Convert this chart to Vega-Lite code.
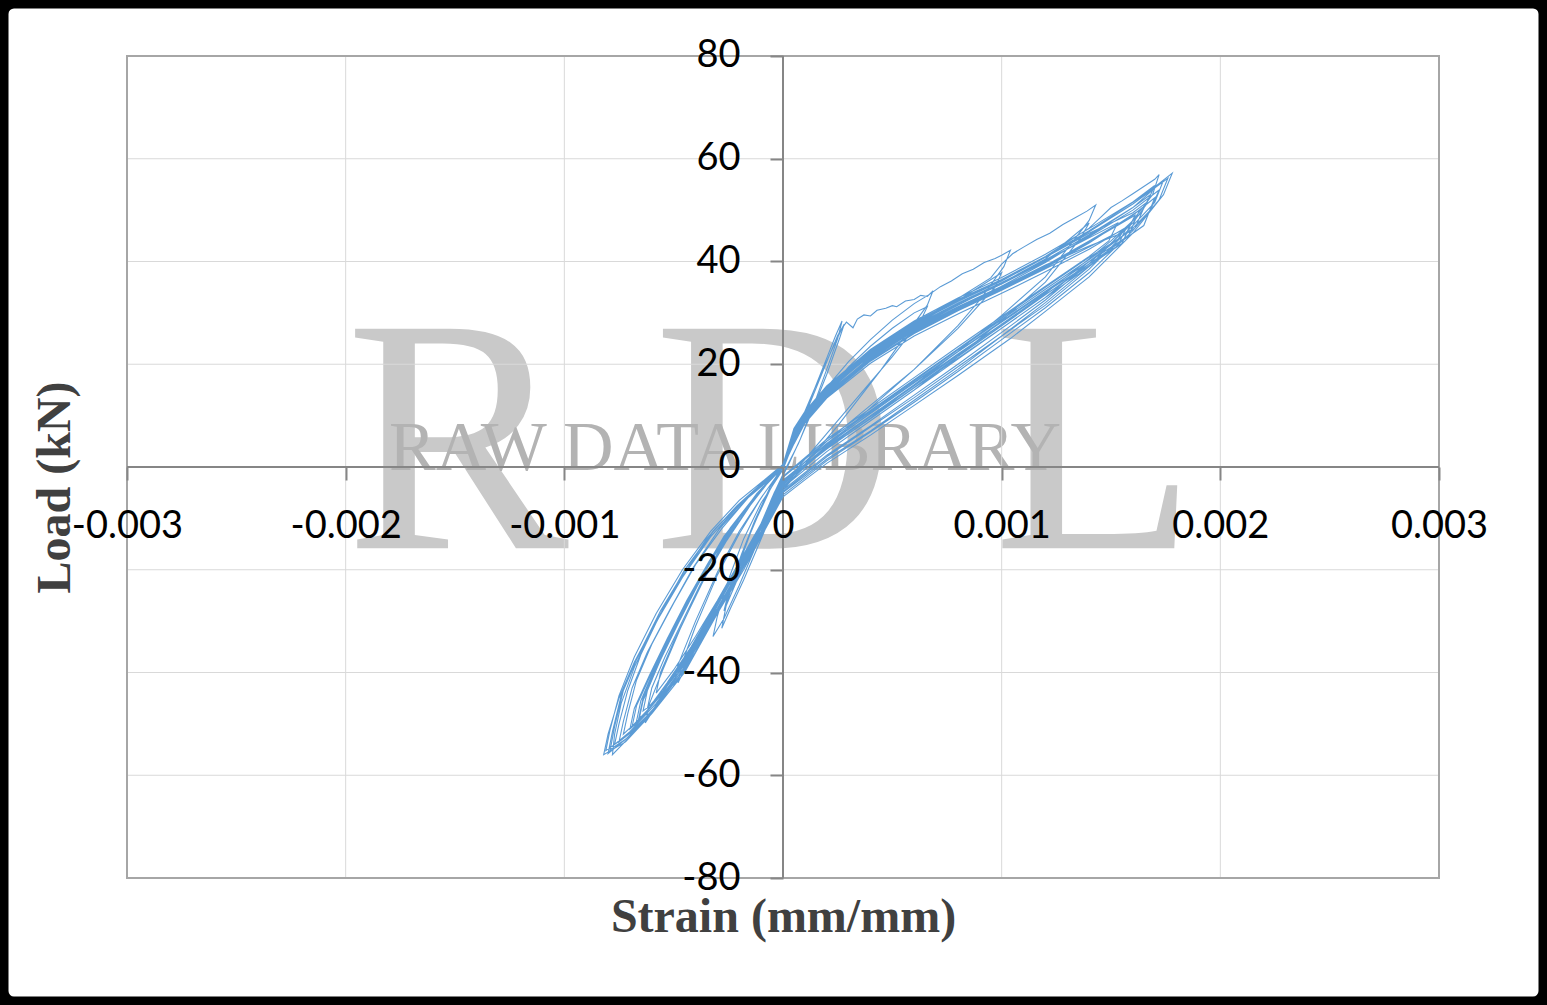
{
"$schema": "https://vega.github.io/schema/vega-lite/v6.json",
"width": 1547, "height": 1005,
"autosize": {"type": "none"},
"padding": 0,
"background": "#ffffff",
"config": {"view": {"stroke": "#000000", "strokeWidth": 17, "cornerRadius": 14}},
"resolve": {"axis": {"x": "independent", "y": "independent"}},
"datasets": {
"wmBig": [{"t":"R","s":-0.00149,"p":-15.8},{"t":"D","s":-0.00004,"p":-15.8},{"t":"L","s":0.001427,"p":-15.8}],
"wmSmall": [{"t":"RAW DATA LIBRARY","s":-0.000265,"p":-0.6}],
"vgrid": [{"s":-0.002,"p":-80,"p2":80},{"s":-0.001,"p":-80,"p2":80},{"s":0.001,"p":-80,"p2":80},{"s":0.002,"p":-80,"p2":80}],
"hgrid": [{"p":-60,"s":-0.003,"s2":0.003},{"p":-40,"s":-0.003,"s2":0.003},{"p":-20,"s":-0.003,"s2":0.003},{"p":20,"s":-0.003,"s2":0.003},{"p":40,"s":-0.003,"s2":0.003},{"p":60,"s":-0.003,"s2":0.003}],
"frame": [{"s":-0.003,"s2":0.003,"p":-80,"p2":80}],
"zero": [{"s":0,"s2":0,"p":-80,"p2":80},{"s":-0.003,"s2":0.003,"p":0,"p2":0}],
"loop": [
{"s":0,"p":0},{"s":0.00005,"p":5.2},{"s":0.0001,"p":10.5},{"s":0.00015,"p":15.8},{"s":0.0002,"p":21.2},{"s":0.00024,"p":25.5},{"s":0.00027,"p":28.4},{"s":0.00025,"p":25},{"s":0.0002,"p":19},{"s":0.00014,"p":12},{"s":0.00008,"p":5.5},{"s":0.00002,"p":0},{"s":-0.00004,"p":-5},{"s":-0.0001,"p":-11},{"s":-0.00016,"p":-17},{"s":-0.00022,"p":-23},{"s":-0.00026,"p":-27},{"s":-0.00024,"p":-23},{"s":-0.00018,"p":-16},{"s":-0.00012,"p":-10},{"s":-0.00006,"p":-4.5},{"s":0,"p":0.5},
{"s":0.00005,"p":4.8},{"s":0.0001,"p":10},{"s":0.00015,"p":15.2},{"s":0.0002,"p":20.5},{"s":0.00025,"p":25.6},{"s":0.00028,"p":27.8},{"s":0.00026,"p":25.2},{"s":0.0002,"p":18},{"s":0.00013,"p":10.5},{"s":0.00007,"p":4.5},{"s":0.00001,"p":-0.5},{"s":-0.00005,"p":-6},{"s":-0.00011,"p":-12},{"s":-0.00017,"p":-18},{"s":-0.00023,"p":-24},{"s":-0.00027,"p":-28},{"s":-0.00025,"p":-24.5},{"s":-0.00019,"p":-17},{"s":-0.00013,"p":-10.5},{"s":-0.00006,"p":-4},{"s":0,"p":0.5},
{"s":0.00005,"p":5.5},{"s":0.0001,"p":10.8},{"s":0.00016,"p":16.8},{"s":0.00022,"p":22.5},{"s":0.00027,"p":27},{"s":0.00029,"p":28.2},{"s":0.00032,"p":27.1},{"s":0.00034,"p":28.8},{"s":0.00037,"p":29.6},{"s":0.0004,"p":29.4},{"s":0.00043,"p":30.5},{"s":0.00047,"p":30.9},{"s":0.0005,"p":31.4},{"s":0.00052,"p":31.2},{"s":0.00056,"p":32.3},{"s":0.0006,"p":32.6},{"s":0.00063,"p":33.4},{"s":0.00066,"p":33.2},{"s":0.000686,"p":34.3},{"s":0.00066,"p":31.5},{"s":0.00055,"p":25},{"s":0.00045,"p":19},{"s":0.00035,"p":13.5},{"s":0.00025,"p":8},{"s":0.00015,"p":3},{"s":0.00005,"p":-2},{"s":0,"p":-4.5},{"s":-0.00006,"p":-10},{"s":-0.00012,"p":-16},{"s":-0.00018,"p":-22},{"s":-0.00024,"p":-27.5},{"s":-0.00028,"p":-31.4},{"s":-0.00026,"p":-27},{"s":-0.00021,"p":-20},{"s":-0.00015,"p":-13},{"s":-0.00008,"p":-6},{"s":0,"p":0},
{"s":0.00005,"p":4.5},{"s":0.0001,"p":8.5},{"s":0.0002,"p":14.5},{"s":0.0003,"p":19.5},{"s":0.0004,"p":23.5},{"s":0.0005,"p":27},{"s":0.0006,"p":30},{"s":0.00066,"p":31.2},{"s":0.00063,"p":28.5},{"s":0.0005,"p":21.5},{"s":0.0004,"p":16.5},{"s":0.0003,"p":11.5},{"s":0.0002,"p":6.5},{"s":0.0001,"p":1.5},{"s":0,"p":-3.5},{"s":-0.00006,"p":-9},{"s":-0.00013,"p":-16},{"s":-0.0002,"p":-23},{"s":-0.00027,"p":-29.5},{"s":-0.00032,"p":-33},{"s":-0.0003,"p":-29},{"s":-0.00025,"p":-22},{"s":-0.00018,"p":-14},{"s":-0.0001,"p":-7},{"s":0,"p":-0.5},
{"s":0.00005,"p":5},{"s":0.0001,"p":9.5},{"s":0.0002,"p":15.5},{"s":0.0003,"p":20.5},{"s":0.0004,"p":24.8},{"s":0.0005,"p":28.6},{"s":0.0006,"p":31.8},{"s":0.00067,"p":33.6},{"s":0.00072,"p":35.1},{"s":0.00077,"p":36.2},{"s":0.00082,"p":37.6},{"s":0.00087,"p":38.5},{"s":0.00092,"p":39.8},{"s":0.00097,"p":40.6},{"s":0.001,"p":41.2},{"s":0.00104,"p":42.2},{"s":0.00101,"p":39},{"s":0.0009,"p":32.5},{"s":0.0008,"p":27.5},{"s":0.0006,"p":19},{"s":0.0004,"p":11.5},{"s":0.0002,"p":4},{"s":0.0001,"p":0},{"s":0,"p":-4},{"s":-0.0001,"p":-11},{"s":-0.0002,"p":-19},{"s":-0.0003,"p":-27},{"s":-0.0004,"p":-35},{"s":-0.00048,"p":-42},{"s":-0.00046,"p":-38},{"s":-0.0004,"p":-31},{"s":-0.0003,"p":-21},{"s":-0.0002,"p":-13},{"s":-0.0001,"p":-6},{"s":0,"p":0},
{"s":0.00005,"p":6},{"s":0.0001,"p":9.8},{"s":0.0002,"p":14.8},{"s":0.0004,"p":22},{"s":0.0006,"p":27.6},{"s":0.0008,"p":32.4},{"s":0.001,"p":37.8},{"s":0.00097,"p":35},{"s":0.0008,"p":27},{"s":0.0006,"p":19},{"s":0.0004,"p":12},{"s":0.0002,"p":5},{"s":0,"p":-3},{"s":-0.0001,"p":-12},{"s":-0.0002,"p":-20},{"s":-0.0003,"p":-28},{"s":-0.0004,"p":-36},{"s":-0.0005,"p":-42.5},{"s":-0.00048,"p":-38.5},{"s":-0.0004,"p":-30},{"s":-0.0003,"p":-20.5},{"s":-0.0002,"p":-12.5},{"s":-0.0001,"p":-6},{"s":0,"p":0},
{"s":0.00005,"p":6.5},{"s":0.0001,"p":10.5},{"s":0.0002,"p":15.5},{"s":0.0004,"p":22.5},{"s":0.0006,"p":28},{"s":0.0008,"p":32.8},{"s":0.00095,"p":36.8},{"s":0.001,"p":39.5},{"s":0.00105,"p":41.5},{"s":0.0011,"p":42.8},{"s":0.00116,"p":44.3},{"s":0.00122,"p":45.5},{"s":0.00128,"p":47.2},{"s":0.00134,"p":48.6},{"s":0.00139,"p":49.8},{"s":0.00143,"p":51},{"s":0.0014,"p":48},{"s":0.0013,"p":42.5},{"s":0.0012,"p":37},{"s":0.001,"p":29.5},{"s":0.0008,"p":22.5},{"s":0.0006,"p":16},{"s":0.0004,"p":9.5},{"s":0.0002,"p":3.5},{"s":0.00005,"p":-1.5},{"s":0,"p":-4.5},{"s":-0.0001,"p":-12.5},{"s":-0.0002,"p":-20},{"s":-0.0003,"p":-27.5},{"s":-0.0004,"p":-34.5},{"s":-0.0005,"p":-41.5},{"s":-0.00058,"p":-46.5},{"s":-0.00063,"p":-49.8},{"s":-0.00061,"p":-46},{"s":-0.00055,"p":-39.5},{"s":-0.00047,"p":-31.5},{"s":-0.00037,"p":-22.5},{"s":-0.00026,"p":-14.5},{"s":-0.00015,"p":-7.5},{"s":-0.00005,"p":-2},{"s":0,"p":0.5},
{"s":0.00005,"p":7},{"s":0.0001,"p":10.2},{"s":0.0002,"p":15},{"s":0.0004,"p":21.6},{"s":0.0006,"p":27},{"s":0.0008,"p":31.5},{"s":0.001,"p":35.8},{"s":0.0012,"p":40.5},{"s":0.0014,"p":47.5},{"s":0.00136,"p":44.5},{"s":0.0012,"p":36},{"s":0.001,"p":28.5},{"s":0.0008,"p":21.5},{"s":0.0006,"p":15},{"s":0.0004,"p":9},{"s":0.0002,"p":3},{"s":0,"p":-4},{"s":-0.0001,"p":-12},{"s":-0.0002,"p":-19.5},{"s":-0.0003,"p":-27},{"s":-0.0004,"p":-34},{"s":-0.0005,"p":-41},{"s":-0.0006,"p":-46.5},{"s":-0.00066,"p":-49.5},{"s":-0.00064,"p":-45.5},{"s":-0.00057,"p":-38.5},{"s":-0.00048,"p":-30},{"s":-0.00038,"p":-21.5},{"s":-0.00027,"p":-13.5},{"s":-0.00015,"p":-7},{"s":-0.00005,"p":-2},{"s":0,"p":0.5},
{"s":0.00005,"p":6},{"s":0.0001,"p":10},{"s":0.0002,"p":15.2},{"s":0.0004,"p":22.2},{"s":0.0006,"p":27.8},{"s":0.0008,"p":32.2},{"s":0.001,"p":36.4},{"s":0.0012,"p":41},{"s":0.0014,"p":46.5},{"s":0.00145,"p":48.5},{"s":0.0015,"p":50.5},{"s":0.00155,"p":51.8},{"s":0.0016,"p":53.2},{"s":0.00165,"p":54.6},{"s":0.0017,"p":56},{"s":0.00172,"p":56.9},{"s":0.00169,"p":53},{"s":0.0016,"p":48},{"s":0.0014,"p":39},{"s":0.0012,"p":32},{"s":0.001,"p":25.5},{"s":0.0008,"p":19},{"s":0.0006,"p":13},{"s":0.0004,"p":7},{"s":0.0002,"p":1.5},{"s":0,"p":-5},{"s":-0.0001,"p":-13},{"s":-0.0002,"p":-20.5},{"s":-0.0003,"p":-28},{"s":-0.0004,"p":-35},{"s":-0.0005,"p":-41.5},{"s":-0.0006,"p":-47.5},{"s":-0.0007,"p":-52.5},{"s":-0.00078,"p":-56},{"s":-0.00077,"p":-52},{"s":-0.00074,"p":-46},{"s":-0.00068,"p":-39},{"s":-0.00059,"p":-31},{"s":-0.00047,"p":-22},{"s":-0.00034,"p":-14},{"s":-0.0002,"p":-7.5},{"s":-0.00007,"p":-2.5},{"s":0,"p":0.5},
{"s":0.00005,"p":7.5},{"s":0.0001,"p":10.8},{"s":0.0002,"p":15.8},{"s":0.0004,"p":22.8},{"s":0.0006,"p":28.2},{"s":0.0008,"p":32.6},{"s":0.001,"p":36.5},{"s":0.0012,"p":41},{"s":0.0014,"p":46},{"s":0.0016,"p":51.5},{"s":0.0017,"p":54.5},{"s":0.00178,"p":57.2},{"s":0.00174,"p":53},{"s":0.0016,"p":45.5},{"s":0.0014,"p":37},{"s":0.0012,"p":30.3},{"s":0.00104,"p":25},{"s":0.0008,"p":17.8},{"s":0.0006,"p":12},{"s":0.0004,"p":6.2},{"s":0.0002,"p":0.7},{"s":0.0001,"p":-2.5},{"s":0,"p":-5.8},{"s":-0.00008,"p":-12},{"s":-0.00018,"p":-20},{"s":-0.0003,"p":-28.5},{"s":-0.00045,"p":-40},{"s":-0.0006,"p":-48},{"s":-0.00072,"p":-53.5},{"s":-0.00082,"p":-56},{"s":-0.0008,"p":-52},{"s":-0.00075,"p":-45},{"s":-0.00068,"p":-38},{"s":-0.00058,"p":-30},{"s":-0.00047,"p":-22},{"s":-0.00035,"p":-14},{"s":-0.00021,"p":-7.5},{"s":-0.00008,"p":-2.5},{"s":0,"p":0.5},
{"s":0.00005,"p":5.5},{"s":0.0001,"p":9.2},{"s":0.0002,"p":14.2},{"s":0.0004,"p":21.4},{"s":0.0006,"p":26.8},{"s":0.0008,"p":31.2},{"s":0.001,"p":35.2},{"s":0.0012,"p":39.8},{"s":0.0014,"p":45},{"s":0.0016,"p":50.5},{"s":0.00174,"p":55.8},{"s":0.0017,"p":51.5},{"s":0.0016,"p":47},{"s":0.0014,"p":38.5},{"s":0.0012,"p":31.5},{"s":0.001,"p":25.5},{"s":0.0008,"p":19.5},{"s":0.0006,"p":13.5},{"s":0.0004,"p":7.8},{"s":0.0002,"p":2},{"s":0,"p":-4.8},{"s":-0.0001,"p":-13},{"s":-0.0002,"p":-20.5},{"s":-0.00032,"p":-29.5},{"s":-0.00046,"p":-40},{"s":-0.0006,"p":-47.5},{"s":-0.00072,"p":-52.5},{"s":-0.00081,"p":-55.2},{"s":-0.00079,"p":-51},{"s":-0.00075,"p":-44.5},{"s":-0.00068,"p":-37},{"s":-0.00058,"p":-28.5},{"s":-0.00046,"p":-20},{"s":-0.00033,"p":-12.5},{"s":-0.0002,"p":-6.5},{"s":-0.00007,"p":-2},{"s":0,"p":0.5},
{"s":0.00005,"p":6.2},{"s":0.0001,"p":9.6},{"s":0.0002,"p":14.6},{"s":0.0004,"p":21.8},{"s":0.0006,"p":27.2},{"s":0.0008,"p":31.6},{"s":0.001,"p":35.6},{"s":0.0012,"p":40},{"s":0.0014,"p":44.8},{"s":0.0016,"p":50},{"s":0.00172,"p":53.9},{"s":0.00168,"p":50},{"s":0.0016,"p":46.5},{"s":0.0014,"p":40},{"s":0.0012,"p":33},{"s":0.001,"p":27},{"s":0.0008,"p":21},{"s":0.0006,"p":15},{"s":0.0004,"p":9},{"s":0.0002,"p":3},{"s":0,"p":-4},{"s":-0.0001,"p":-12.5},{"s":-0.0002,"p":-20},{"s":-0.00032,"p":-29},{"s":-0.00045,"p":-38.5},{"s":-0.00058,"p":-46},{"s":-0.0007,"p":-51.5},{"s":-0.00077,"p":-54},{"s":-0.00075,"p":-50},{"s":-0.00071,"p":-43.5},{"s":-0.00065,"p":-36.5},{"s":-0.00056,"p":-28.5},{"s":-0.00045,"p":-20},{"s":-0.00032,"p":-12.5},{"s":-0.00018,"p":-6.5},{"s":-0.00006,"p":-2},{"s":0,"p":0.5},
{"s":0.00005,"p":5.8},{"s":0.0001,"p":9},{"s":0.0002,"p":14},{"s":0.0004,"p":21},{"s":0.0006,"p":26.5},{"s":0.0008,"p":30.8},{"s":0.001,"p":34.8},{"s":0.0012,"p":39.2},{"s":0.0014,"p":44},{"s":0.0016,"p":49},{"s":0.0017,"p":52.4},{"s":0.00165,"p":47},{"s":0.0014,"p":39.5},{"s":0.0012,"p":33.5},{"s":0.001,"p":27.5},{"s":0.0008,"p":21.5},{"s":0.0006,"p":15.5},{"s":0.0004,"p":9.5},{"s":0.0002,"p":3.5},{"s":0,"p":-2.5},{"s":-0.0001,"p":-12},{"s":-0.0002,"p":-19.5},{"s":-0.00032,"p":-28.5},{"s":-0.00045,"p":-38},{"s":-0.00058,"p":-45.5},{"s":-0.00068,"p":-50},{"s":-0.00073,"p":-52},{"s":-0.00071,"p":-48},{"s":-0.00067,"p":-41.5},{"s":-0.0006,"p":-34.5},{"s":-0.0005,"p":-26.5},{"s":-0.0004,"p":-19},{"s":-0.00028,"p":-12},{"s":-0.00016,"p":-6},{"s":-0.00005,"p":-2},{"s":0,"p":0.5},
{"s":0.00005,"p":6.8},{"s":0.0001,"p":10.2},{"s":0.0002,"p":15.2},{"s":0.0004,"p":22.4},{"s":0.0006,"p":27.8},{"s":0.0008,"p":32.2},{"s":0.001,"p":36.2},{"s":0.0012,"p":40.8},{"s":0.0014,"p":45.5},{"s":0.0016,"p":49.5},{"s":0.00166,"p":51.4},{"s":0.00161,"p":46.5},{"s":0.0014,"p":40.8},{"s":0.0012,"p":35},{"s":0.001,"p":29},{"s":0.0008,"p":23},{"s":0.0006,"p":17},{"s":0.0004,"p":11},{"s":0.0002,"p":5},{"s":0,"p":-2},{"s":-0.0001,"p":-11.5},{"s":-0.0002,"p":-19},{"s":-0.00032,"p":-28},{"s":-0.00044,"p":-37},{"s":-0.00056,"p":-44.5},{"s":-0.00065,"p":-49},{"s":-0.00069,"p":-50.5},{"s":-0.00067,"p":-46.5},{"s":-0.0006,"p":-40},{"s":-0.00052,"p":-33},{"s":-0.00043,"p":-25.5},{"s":-0.00033,"p":-18},{"s":-0.00023,"p":-11.5},{"s":-0.00012,"p":-5.5},{"s":-0.00004,"p":-1.5},{"s":0,"p":0.5},
{"s":0.00005,"p":5.2},{"s":0.0001,"p":8.8},{"s":0.0002,"p":13.6},{"s":0.0004,"p":20.6},{"s":0.0006,"p":26},{"s":0.0008,"p":30.4},{"s":0.001,"p":34.4},{"s":0.0012,"p":38.8},{"s":0.0014,"p":43.6},{"s":0.00163,"p":50},{"s":0.00158,"p":45},{"s":0.0014,"p":40},{"s":0.0012,"p":34.2},{"s":0.001,"p":28.4},{"s":0.0008,"p":22.5},{"s":0.0006,"p":16.5},{"s":0.0004,"p":10.5},{"s":0.0002,"p":4.2},{"s":0,"p":-3.5},{"s":-0.0001,"p":-12},{"s":-0.0002,"p":-19.5},{"s":-0.00031,"p":-27.5},{"s":-0.00043,"p":-36},{"s":-0.00055,"p":-43.5},{"s":-0.00062,"p":-47.5},{"s":-0.00066,"p":-49},{"s":-0.00064,"p":-45},{"s":-0.00058,"p":-39},{"s":-0.0005,"p":-32},{"s":-0.00041,"p":-24.5},{"s":-0.00031,"p":-17},{"s":-0.00021,"p":-10.5},{"s":-0.00011,"p":-5},{"s":-0.00003,"p":-1},{"s":0,"p":0.5},
{"s":0.00005,"p":4.8},{"s":0.0001,"p":8.5},{"s":0.0002,"p":13.4},{"s":0.0004,"p":20.2},{"s":0.0006,"p":25.5},{"s":0.0008,"p":29.8},{"s":0.001,"p":33.8},{"s":0.0012,"p":38},{"s":0.0014,"p":42.4},{"s":0.00159,"p":47.2},{"s":0.00155,"p":43.5},{"s":0.0014,"p":39.2},{"s":0.0012,"p":33.6},{"s":0.001,"p":27.8},{"s":0.0008,"p":22},{"s":0.0006,"p":16},{"s":0.0004,"p":10},{"s":0.0002,"p":4},{"s":0,"p":-3},{"s":-0.0001,"p":-11.5},{"s":-0.0002,"p":-19},{"s":-0.0003,"p":-26.5},{"s":-0.00042,"p":-35},{"s":-0.00053,"p":-42},{"s":-0.00059,"p":-45.5},{"s":-0.00062,"p":-47},{"s":-0.0006,"p":-43},{"s":-0.00054,"p":-37},{"s":-0.00046,"p":-30},{"s":-0.00038,"p":-23},{"s":-0.00029,"p":-16},{"s":-0.0002,"p":-10},{"s":-0.0001,"p":-4.5},{"s":0,"p":0},
{"s":0.00005,"p":6},{"s":0.0001,"p":9.5},{"s":0.0002,"p":14.4},{"s":0.0004,"p":21.2},{"s":0.0006,"p":26.6},{"s":0.0008,"p":31},{"s":0.001,"p":35},{"s":0.0012,"p":39.3},{"s":0.0014,"p":43},{"s":0.00155,"p":45.5},{"s":0.0015,"p":42.2},{"s":0.0014,"p":39},{"s":0.0012,"p":33},{"s":0.001,"p":27},{"s":0.0008,"p":21.2},{"s":0.0006,"p":15.4},{"s":0.0004,"p":9.4},{"s":0.0002,"p":3.6},{"s":0,"p":-3.2},{"s":-0.0001,"p":-11},{"s":-0.0002,"p":-18.5},{"s":-0.0003,"p":-26},{"s":-0.0004,"p":-33},{"s":-0.0005,"p":-39.5},{"s":-0.00058,"p":-44},{"s":-0.00056,"p":-40},{"s":-0.0005,"p":-34},{"s":-0.00042,"p":-27},{"s":-0.00034,"p":-20},{"s":-0.00025,"p":-13.5},{"s":-0.00016,"p":-8},{"s":-0.00007,"p":-3},{"s":0,"p":0},
{"s":0.00005,"p":6.8},{"s":0.0001,"p":10.4},{"s":0.0002,"p":15.4},{"s":0.0004,"p":22.6},{"s":0.0006,"p":28},{"s":0.0008,"p":32.4},{"s":0.001,"p":36.3},{"s":0.0012,"p":40.8},{"s":0.0014,"p":45.8},{"s":0.0016,"p":51.2},{"s":0.00176,"p":56.2},{"s":0.00172,"p":52},{"s":0.0016,"p":46},{"s":0.0014,"p":37.8},{"s":0.0012,"p":31},{"s":0.001,"p":24.8},{"s":0.0008,"p":18.6},{"s":0.0006,"p":12.6},{"s":0.0004,"p":6.8},{"s":0.0002,"p":1.2},{"s":0,"p":-5.4},{"s":-0.0001,"p":-13.5},{"s":-0.0002,"p":-21},{"s":-0.00032,"p":-30},{"s":-0.00046,"p":-40.5},{"s":-0.0006,"p":-48},{"s":-0.00072,"p":-53},{"s":-0.0008,"p":-55.8},{"s":-0.00078,"p":-51.5},{"s":-0.00074,"p":-44.5},{"s":-0.00067,"p":-37.5},{"s":-0.00057,"p":-29.5},{"s":-0.00046,"p":-21.5},{"s":-0.00033,"p":-13.5},{"s":-0.00019,"p":-7},{"s":-0.00007,"p":-2.5},{"s":0,"p":0.5},
{"s":0.00005,"p":6.4},{"s":0.0001,"p":9.9},{"s":0.0002,"p":14.9},{"s":0.0004,"p":22},{"s":0.0006,"p":27.4},{"s":0.0008,"p":31.8},{"s":0.001,"p":35.8},{"s":0.0012,"p":40.3},{"s":0.0014,"p":45.2},{"s":0.0016,"p":50.5},{"s":0.00168,"p":53},{"s":0.00164,"p":49.5},{"s":0.0015,"p":44},{"s":0.0014,"p":40.5},{"s":0.0012,"p":33.8},{"s":0.001,"p":27.8},{"s":0.0008,"p":21.8},{"s":0.0006,"p":15.8},{"s":0.0004,"p":9.8},{"s":0.0002,"p":3.8},{"s":0,"p":-3.8},{"s":-0.0001,"p":-12.8},{"s":-0.0002,"p":-20.2},{"s":-0.00033,"p":-30},{"s":-0.00046,"p":-39.5},{"s":-0.00058,"p":-46.5},{"s":-0.00069,"p":-51.5},{"s":-0.00075,"p":-53.5},{"s":-0.00073,"p":-49.5},{"s":-0.00069,"p":-43},{"s":-0.00062,"p":-36},{"s":-0.00052,"p":-28},{"s":-0.00041,"p":-19.5},{"s":-0.00029,"p":-12},{"s":-0.00016,"p":-6},{"s":-0.00005,"p":-2},{"s":0,"p":0.5},
{"s":0.00005,"p":5},{"s":0.0001,"p":8.6},{"s":0.0002,"p":13.8},{"s":0.0004,"p":20.8},{"s":0.0006,"p":26.2},{"s":0.0008,"p":30.6},{"s":0.001,"p":34.6},{"s":0.0012,"p":39},{"s":0.0014,"p":43.8},{"s":0.00161,"p":49},{"s":0.00157,"p":45.5},{"s":0.0014,"p":40.4},{"s":0.0012,"p":34.6},{"s":0.001,"p":28.7},{"s":0.0008,"p":22.8},{"s":0.0006,"p":16.8},{"s":0.0004,"p":10.8},{"s":0.0002,"p":4.6},{"s":0,"p":-2.8},{"s":-0.0001,"p":-11.8},{"s":-0.0002,"p":-19.2},{"s":-0.00032,"p":-28.2},{"s":-0.00045,"p":-37.5},{"s":-0.00057,"p":-45},{"s":-0.00066,"p":-49.5},{"s":-0.0007,"p":-51},{"s":-0.00068,"p":-47},{"s":-0.00061,"p":-40.5},{"s":-0.00053,"p":-33.5},{"s":-0.00044,"p":-26},{"s":-0.00034,"p":-18.5},{"s":-0.00024,"p":-11.8},{"s":-0.00013,"p":-5.8},{"s":-0.00004,"p":-1.8},{"s":0,"p":0.5},
{"s":0.00005,"p":5.5},{"s":0.0001,"p":9.2},{"s":0.0002,"p":14.2},{"s":0.0004,"p":21.2},{"s":0.0006,"p":26.4},{"s":0.0008,"p":30.6},{"s":0.001,"p":34.4},{"s":0.0012,"p":38.6},{"s":0.0014,"p":42.8},{"s":0.00157,"p":46.5},{"s":0.00153,"p":43},{"s":0.0014,"p":39.5},{"s":0.0012,"p":34},{"s":0.001,"p":28.2},{"s":0.0008,"p":22.4},{"s":0.0006,"p":16.4},{"s":0.0004,"p":10.4},{"s":0.0002,"p":4.4},{"s":0,"p":-2.6},{"s":-0.0001,"p":-11.2},{"s":-0.0002,"p":-18.8},{"s":-0.00031,"p":-27},{"s":-0.00043,"p":-36},{"s":-0.00055,"p":-44},{"s":-0.00063,"p":-48},{"s":-0.00067,"p":-49.5},{"s":-0.00065,"p":-45.5},{"s":-0.00059,"p":-39.5},{"s":-0.00051,"p":-32.5},{"s":-0.00042,"p":-25},{"s":-0.00032,"p":-17.5},{"s":-0.00022,"p":-11},{"s":-0.00012,"p":-5.2},{"s":-0.00004,"p":-1.5},{"s":0,"p":0.5},
{"s":0.00005,"p":7.2},{"s":0.0001,"p":10.6},{"s":0.0002,"p":15.6},{"s":0.0004,"p":22.9},{"s":0.0006,"p":28.4},{"s":0.0008,"p":32.9},{"s":0.001,"p":36.9},{"s":0.0012,"p":41.4},{"s":0.0014,"p":46.4},{"s":0.0016,"p":51.6},{"s":0.0017,"p":54.8},{"s":0.00166,"p":51},{"s":0.0016,"p":47.5},{"s":0.0014,"p":39.6},{"s":0.0012,"p":32.5},{"s":0.001,"p":26.2},{"s":0.0008,"p":20},{"s":0.0006,"p":14},{"s":0.0004,"p":8},{"s":0.0002,"p":2.3},{"s":0,"p":-4.5},{"s":-0.0001,"p":-13.2},{"s":-0.0002,"p":-20.8},{"s":-0.00033,"p":-30.5},{"s":-0.00047,"p":-40.5},{"s":-0.0006,"p":-47.8},{"s":-0.00072,"p":-53},{"s":-0.00079,"p":-55},{"s":-0.00077,"p":-50.5},{"s":-0.00073,"p":-43.5},{"s":-0.00066,"p":-36.5},{"s":-0.00056,"p":-28},{"s":-0.00044,"p":-19.5},{"s":-0.00031,"p":-12},{"s":-0.00017,"p":-6},{"s":-0.00006,"p":-2},{"s":0,"p":0.5},
{"s":0.00005,"p":6.6},{"s":0.0001,"p":10},{"s":0.0002,"p":15},{"s":0.0004,"p":22.1},{"s":0.0006,"p":27.5},{"s":0.0008,"p":31.9},{"s":0.001,"p":35.9},{"s":0.0012,"p":40.2},{"s":0.0014,"p":44.6},{"s":0.00153,"p":47.5},{"s":0.00149,"p":44},{"s":0.0014,"p":41},{"s":0.0012,"p":35.2},{"s":0.001,"p":29.3},{"s":0.0008,"p":23.4},{"s":0.0006,"p":17.4},{"s":0.0004,"p":11.4},{"s":0.0002,"p":5.4},{"s":0,"p":-1.8},{"s":-0.0001,"p":-11},{"s":-0.0002,"p":-18.5},{"s":-0.0003,"p":-26.2},{"s":-0.00042,"p":-35},{"s":-0.00053,"p":-42.5},{"s":-0.0006,"p":-46.2},{"s":-0.00064,"p":-47.5},{"s":-0.00062,"p":-43.5},{"s":-0.00056,"p":-37.5},{"s":-0.00048,"p":-30.5},{"s":-0.00039,"p":-23},{"s":-0.0003,"p":-16},{"s":-0.0002,"p":-10},{"s":-0.0001,"p":-4.5},{"s":0,"p":0}
]
},
"layer": [
{"data": {"name": "wmBig"},
 "mark": {"type": "text", "font": "Liberation Serif", "fontSize": 335, "fill": "#c9c9c9", "align": "center", "baseline": "alphabetic"},
 "encoding": {
  "x": {"field": "s", "type": "quantitative", "scale": {"domain": [-0.00358079, 0.0034939], "nice": false, "zero": false}, "axis": null},
  "y": {"field": "p", "type": "quantitative", "scale": {"domain": [-104.72, 90.9], "nice": false, "zero": false}, "axis": null},
  "text": {"field": "t"}}},
{"data": {"name": "wmSmall"},
 "mark": {"type": "text", "font": "Liberation Serif", "fontSize": 70, "fill": "#b3b3b3", "align": "center", "baseline": "alphabetic"},
 "encoding": {
  "x": {"field": "s", "type": "quantitative", "axis": null},
  "y": {"field": "p", "type": "quantitative", "axis": null},
  "text": {"field": "t"}}},
{"data": {"name": "vgrid"},
 "mark": {"type": "rule", "color": "#d9d9d9", "strokeWidth": 1},
 "encoding": {
  "x": {"field": "s", "type": "quantitative", "axis": null},
  "y": {"field": "p", "type": "quantitative", "axis": null},
  "y2": {"field": "p2"}}},
{"data": {"name": "hgrid"},
 "mark": {"type": "rule", "color": "#d9d9d9", "strokeWidth": 1},
 "encoding": {
  "y": {"field": "p", "type": "quantitative", "axis": null},
  "x": {"field": "s", "type": "quantitative", "axis": null},
  "x2": {"field": "s2"}}},
{"data": {"name": "frame"},
 "mark": {"type": "rect", "fill": "#ffffff", "fillOpacity": 0, "stroke": "#a6a6a6", "strokeWidth": 2},
 "encoding": {
  "x": {"field": "s", "type": "quantitative", "axis": null},
  "x2": {"field": "s2"},
  "y": {"field": "p", "type": "quantitative", "axis": null},
  "y2": {"field": "p2"}}},
{"data": {"name": "zero"},
 "mark": {"type": "rule", "color": "#868686", "strokeWidth": 2},
 "encoding": {
  "x": {"field": "s", "type": "quantitative", "axis": null},
  "x2": {"field": "s2"},
  "y": {"field": "p", "type": "quantitative", "axis": null},
  "y2": {"field": "p2"}}},
{"data": {"name": "loop"},
 "mark": {"type": "line", "color": "#5b9bd5", "strokeWidth": 1.1},
 "encoding": {
  "x": {"field": "s", "type": "quantitative",
   "axis": {"orient": "bottom", "offset": -538, "values": [-0.003, -0.002, -0.001, 0, 0.001, 0.002, 0.003],
    "domain": false, "grid": false, "ticks": true, "tickSize": 13, "tickColor": "#868686", "tickWidth": 2,
    "labelFont": "Lato", "labelFontSize": 38, "labelColor": "#000000", "labelPadding": 27,
    "labelFlush": false, "labelOverlap": false, "labelExpr": "datum.value + ''",
    "title": "Strain (mm/mm)", "titleFont": "Liberation Serif", "titleFontWeight": "bold", "titleFontSize": 48,
    "titleColor": "#404040", "titleX": 783, "titleY": 464, "titleBaseline": "alphabetic", "titleAlign": "center", "zindex": 1}},
  "y": {"field": "p", "type": "quantitative",
   "axis": {"orient": "left", "offset": -783, "values": [-80, -60, -40, -20, 0, 20, 40, 60, 80],
    "domain": false, "grid": false, "ticks": true, "tickSize": 13, "tickColor": "#868686", "tickWidth": 2,
    "labelFont": "Lato", "labelFontSize": 38, "labelColor": "#000000", "labelPadding": 30,
    "labelOverlap": false, "labelExpr": "datum.value + ''",
    "title": "Load (kN)", "titleFont": "Liberation Serif", "titleFontWeight": "bold", "titleFontSize": 48,
    "titleColor": "#404040", "titleX": -714, "titleY": 487, "titleAngle": 270, "titleBaseline": "alphabetic", "titleAlign": "center", "zindex": 1}},
  "order": {"value": null}}}
]
}
